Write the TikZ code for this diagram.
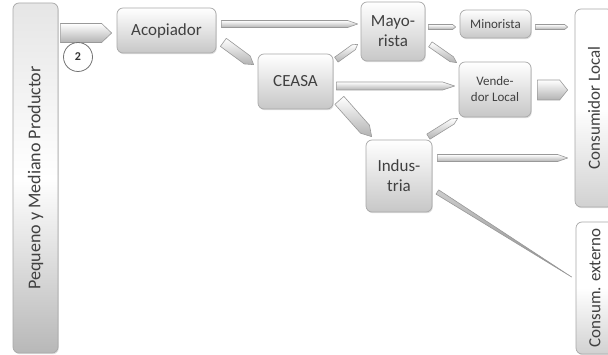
\documentclass[tikz,border=0pt]{standalone}
\usepackage{fontspec}
\setmainfont{Carlito}
\usetikzlibrary{calc,shadows}
\definecolor{txt}{HTML}{404040}
\definecolor{edge}{HTML}{A8A8A8}
\tikzset{
  box/.style={draw=edge, line width=0.7pt, rounded corners=6pt, top color=white, bottom color=black!22,
    text=txt, align=center, inner sep=1pt, font=\fontsize{17}{20}\selectfont,
    drop shadow={shadow xshift=0.8pt, shadow yshift=-1.2pt, opacity=0.25}},
  smallbox/.style={box, font=\fontsize{13}{16}\selectfont},
  bar/.style={draw=edge, line width=0.7pt, rounded corners=6pt, top color=black!10, bottom color=black!28,
    middle color=white, text=txt, inner sep=1pt, rotate=90, font=\fontsize{17}{20}\selectfont,
    drop shadow={shadow xshift=0.8pt, shadow yshift=-1.2pt, opacity=0.25}},
  connarrow/.style={draw=black!40, line width=0.6pt, top color=white, bottom color=black!30, line join=round},
  numcircle/.style={circle, draw=black!55, line width=0.8pt, fill=white, minimum size=29pt, inner sep=0pt,
    text=black!80, font=\fontsize{12}{12}\selectfont\bfseries}
}
\newcommand{\barrow}[5][]{%
  \coordinate (bas) at ($(#3)!#5!(#2)$);
  \path[connarrow,#1] ($(#2)!#4!90:(#3)$) -- ($(bas)!#4!90:(#3)$) -- (#3) -- ($(bas)!#4!-90:(#3)$) -- ($(#2)!#4!-90:(#3)$) -- cycle;
}
\begin{document}
\begin{tikzpicture}[x=1pt,y=-1pt]
\useasboundingbox (0,0) rectangle (608,355);
\clip (0,0) rectangle (608,355);
% nodes
\node[bar, minimum width=350pt, minimum height=45pt, font=\fontsize{18}{20}\selectfont] (bar) at (35.5,178) {Pequeno y Mediano Productor};
\node[box, minimum width=99pt, minimum height=45pt] (acop) at (166.5,30.5) {Acopiador};
\node[box, minimum width=75pt, minimum height=55pt] (ceasa) at (295.5,81.5) {CEASA};
\node[box, minimum width=64pt, minimum height=59pt] (may) at (393,31.5) {Mayo-\\rista};
\node[smallbox, minimum width=71pt, minimum height=28pt] (min) at (495.5,24) {Minorista};
\node[smallbox, minimum width=72pt, minimum height=55pt] (vend) at (495,89.5) {Vende-\\dor Local};
\node[box, minimum width=66pt, minimum height=72pt] (ind) at (399,176) {Indus-\\tria};
\node[bar, minimum width=198pt, minimum height=38pt, top color=white, bottom color=black!18, middle color=white] (cl) at (594,108) {Consumidor Local};
\node[bar, minimum width=132pt, minimum height=38pt, top color=white, bottom color=black!18, middle color=white] (ce) at (595,288) {Consum. externo};
% connector end points
\coordinate (c13s) at ($(bar.south)+(2,-145)$);
\coordinate (c13e) at ($(acop.west)+(-5,2.5)$);
\coordinate (c1s) at ($(acop.east)+(5,-6.5)$);
\coordinate (c1e) at ($(may.west)+(-3,-7.5)$);
\coordinate (c2s) at ($(acop.south east)+(7,-11)$);
\coordinate (c2e) at ($(ceasa.north west)+(-4,11)$);
\coordinate (c3s) at ($(ceasa.north east)+(3,6)$);
\coordinate (c3e) at ($(may.south west)+(-3,-17)$);
\coordinate (c4s) at ($(may.east)+(3,-4.5)$);
\coordinate (c4e) at ($(min.west)+(-4,3)$);
\coordinate (c5s) at ($(min.east)+(4,3)$);
\coordinate (c5e) at ($(cl.north)+(-7,-81)$);
\coordinate (c6s) at ($(may.south east)+(5,-17)$);
\coordinate (c6e) at ($(vend.north west)+(-2,1)$);
\coordinate (c7s) at ($(ceasa.east)+(3,4.5)$);
\coordinate (c7e) at ($(vend.west)+(-4,-3.5)$);
\coordinate (c8s) at ($(vend.east)+(6,0.5)$);
\coordinate (c8e) at ($(cl.north)+(-7,-18)$);
\coordinate (c9s) at ($(ceasa.south east)+(6,-9)$);
\coordinate (c9e) at ($(ind.north west)+(6,-3)$);
\coordinate (c10s) at ($(ind.north east)+(-4,-3)$);
\coordinate (c10e) at ($(vend.south west)+(-1,1)$);
\coordinate (c11s) at ($(ind.east)+(5,-18)$);
\coordinate (c11e) at ($(cl.north)+(-7,50)$);
\coordinate (c12s) at ($(ind.east)+(5,16)$);
\coordinate (c12e) at ($(ce.north)+(-4,-11)$);
% connectors
\barrow{c13s}{c13e}{9.5pt}{10pt}
\barrow{c1s}{c1e}{3.5pt}{10pt}
\barrow{c2s}{c2e}{5pt}{8pt}
\barrow{c3s}{c3e}{3pt}{5pt}
\barrow{c4s}{c4e}{2.5pt}{3pt}
\barrow{c5s}{c5e}{2.5pt}{3pt}
\barrow{c6s}{c6e}{3pt}{6pt}
\barrow{c7s}{c7e}{4pt}{12pt}
\barrow{c8s}{c8e}{10pt}{8pt}
\barrow{c9s}{c9e}{6pt}{10pt}
\barrow{c10s}{c10e}{3pt}{6pt}
\barrow{c11s}{c11e}{3.5pt}{10pt}
\barrow[top color=black!20, bottom color=black!45]{c12s}{c12e}{2.5pt}{159pt}
\node[numcircle] (n2) at (78,57) {2};
\end{tikzpicture}
\end{document}
